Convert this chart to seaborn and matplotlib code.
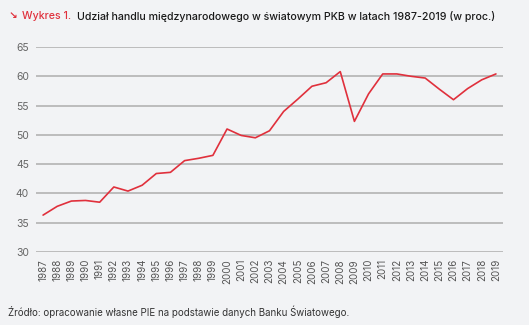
import matplotlib
matplotlib.use('Agg')
import matplotlib.pyplot as plt
import seaborn as sns
import pandas as pd

years = list(range(1987, 2020))
share = [36.3, 37.8, 38.7, 38.8, 38.5, 41.1, 40.4, 41.4, 43.4, 43.6,
         45.6, 46.0, 46.5, 51.0, 49.9, 49.5, 50.7, 54.0, 56.1, 58.3,
         58.9, 60.8, 52.3, 57.0, 60.4, 60.4, 60.0, 59.7, 57.8, 56.0,
         57.9, 59.4, 60.4]
yticks = [30, 35, 40, 45, 50, 55, 60, 65]

df = pd.DataFrame({'rok': years, 'udzial': share})

bg = '#f2f3f5'
red = '#e0303c'
sns.set_style('white')
plt.rcParams['font.family'] = ['Inter', 'DejaVu Sans']

fig = plt.figure(figsize=(5.29, 3.25), dpi=100, facecolor=bg)
ax = fig.add_axes([36/529, 1-252/325, (503-36)/529, (252-47)/325])
ax.set_facecolor(bg)

sns.lineplot(data=df, x='rok', y='udzial', ax=ax, color=red, linewidth=1.2)

ax.set_ylim(30, 65)
ax.set_xlim(1986.5, 2019.5)
ax.set_yticks(yticks)
ax.set_xticks(years)
ax.set_xticklabels([str(y) for y in years], rotation=90, fontsize=7, color='#555555')
ax.set_yticklabels([str(v) for v in yticks], fontsize=7.5, color='#666666')
ax.tick_params(axis='both', length=0, pad=5)
ax.yaxis.grid(True, color='#b8b8b8', linewidth=1.3)
ax.set_axisbelow(True)
for s in ax.spines.values():
    s.set_visible(False)
ax.set_xlabel('')
ax.set_ylabel('')

fig.text(9/529, 1-16/325, '\u2198', fontsize=7.5, color=red, va='center', weight='bold', family=['DejaVu Sans'])
fig.text(22/529, 1-16/325, 'Wykres 1.', fontsize=7.6, color=red, va='center', weight='medium')
fig.text(77/529, 1-16/325, 'Udział handlu międzynarodowego w światowym PKB w latach 1987-2019 (w proc.)',
         fontsize=7.65, color='#1a1a1a', va='center', weight='medium')
fig.text(8/529, 1-312/325, 'Źródło: opracowanie własne PIE na podstawie danych Banku Światowego.',
         fontsize=7, color='#333333', va='center')

fig.savefig('out.png', dpi=100, facecolor=bg)
